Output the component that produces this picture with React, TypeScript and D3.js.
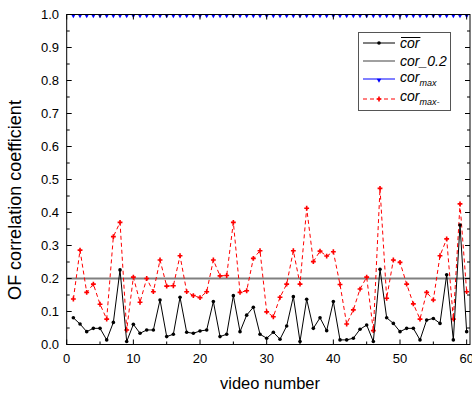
import * as d3 from "d3";
import { useEffect, useRef } from "react";

/* -----------------------------
   Data
----------------------------- */

const videos: number[] = d3.range(1, 61);

const corMean: number[] = [
  0.081, 0.062, 0.039, 0.049, 0.049, 0.014, 0.067, 0.226, 0.009, 0.061,
  0.034, 0.044, 0.044, 0.135, 0.024, 0.031, 0.143, 0.037, 0.034, 0.041,
  0.044, 0.13, 0.024, 0.031, 0.148, 0.039, 0.089, 0.113, 0.031, 0.019,
  0.037, 0.016, 0.056, 0.145, 0.009, 0.137, 0.049, 0.081, 0.042, 0.13,
  0.014, 0.014, 0.019, 0.046, 0.059, 0.009, 0.228, 0.081, 0.064, 0.039,
  0.049, 0.049, 0.014, 0.074, 0.079, 0.064, 0.211, 0.014, 0.362, 0.039,
];

const corMaxMinus: number[] = [
  0.138, 0.286, 0.158, 0.183, 0.122, 0.077, 0.327, 0.37, 0.044, 0.204,
  0.128, 0.2, 0.16, 0.256, 0.177, 0.178, 0.269, 0.16, 0.148, 0.142,
  0.16, 0.256, 0.208, 0.209, 0.37, 0.158, 0.163, 0.261, 0.284, 0.099,
  0.084, 0.143, 0.183, 0.284, 0.183, 0.413, 0.251, 0.283, 0.268, 0.281,
  0.182, 0.062, 0.105, 0.168, 0.204, 0.042, 0.473, 0.14, 0.256, 0.249,
  0.183, 0.123, 0.077, 0.158, 0.135, 0.269, 0.32, 0.077, 0.426, 0.16,
];

const corMax: number[] = videos.map(() => 1.0);

const threshold = 0.2;

const xTicks: number[] = [0, 10, 20, 30, 40, 50, 60];
const yTicks: number[] = [0, 0.1, 0.2, 0.3, 0.4, 0.5, 0.6, 0.7, 0.8, 0.9, 1.0];

/* -----------------------------
   Component
----------------------------- */

export default function App() {
  const ref = useRef<SVGSVGElement>(null);

  useEffect(() => {
    if (!ref.current) return;

    const width = 472;
    const height = 394;
    const left = 66.7;
    const right = 470;
    const top = 14.5;
    const bottom = 344.5;
    const font = "'Liberation Sans', Arial, sans-serif";

    const svg = d3.select(ref.current);
    svg.selectAll("*").remove();
    svg.attr("width", width).attr("height", height);

    const x = d3.scaleLinear().domain([0, 60.5]).range([left, right]);
    const y = d3.scaleLinear().domain([0, 1]).range([bottom, top]);

    // threshold line
    svg
      .append("line")
      .attr("x1", left)
      .attr("x2", right)
      .attr("y1", y(threshold))
      .attr("y2", y(threshold))
      .attr("stroke", "#808080")
      .attr("stroke-width", 2);

    const line = d3
      .line<number>()
      .x((_, i) => x(videos[i]))
      .y((d) => y(d));

    // cor_max- (red dashed)
    svg
      .append("path")
      .datum(corMaxMinus)
      .attr("d", line)
      .attr("fill", "none")
      .attr("stroke", "#ff0000")
      .attr("stroke-width", 1)
      .attr("stroke-dasharray", "4,3");

    const cross = d3.symbol().type(d3.symbolCross).size(13);
    svg
      .append("g")
      .selectAll("path")
      .data(corMaxMinus)
      .join("path")
      .attr("d", cross)
      .attr("transform", (d, i) => `translate(${x(videos[i])},${y(d)})`)
      .attr("fill", "#ff0000");

    // mean cor (black)
    svg
      .append("path")
      .datum(corMean)
      .attr("d", line)
      .attr("fill", "none")
      .attr("stroke", "#000")
      .attr("stroke-width", 1);

    svg
      .append("g")
      .selectAll("circle")
      .data(corMean)
      .join("circle")
      .attr("cx", (_, i) => x(videos[i]))
      .attr("cy", (d) => y(d))
      .attr("r", 1.8)
      .attr("fill", "#000");

    // cor_max (blue), sits on the top frame
    const tri = d3.symbol().type(d3.symbolTriangle).size(9);
    svg
      .append("g")
      .selectAll("path")
      .data(corMax)
      .join("path")
      .attr("d", tri)
      .attr("transform", (d, i) => `translate(${x(videos[i])},${y(d) + 1}) rotate(180)`)
      .attr("fill", "#0000ff");

    // frame + inward ticks
    const frame = svg.append("g").attr("stroke", "#000").attr("stroke-width", 1);
    frame
      .append("rect")
      .attr("x", left)
      .attr("y", top)
      .attr("width", right - left)
      .attr("height", bottom - top)
      .attr("fill", "none");

    const xMinor = d3.range(0, 61, 5);
    const yMinor = d3.range(0, 21).map((i) => i * 0.05);

    xMinor.forEach((t) => {
      const len = t % 10 === 0 ? 5 : 3;
      frame.append("line").attr("x1", x(t)).attr("x2", x(t)).attr("y1", bottom).attr("y2", bottom - len);
      frame.append("line").attr("x1", x(t)).attr("x2", x(t)).attr("y1", top).attr("y2", top + len);
    });
    yMinor.forEach((t, i) => {
      const len = i % 2 === 0 ? 5 : 3;
      frame.append("line").attr("x1", left).attr("x2", left + len).attr("y1", y(t)).attr("y2", y(t));
      frame.append("line").attr("x1", right).attr("x2", right - len).attr("y1", y(t)).attr("y2", y(t));
    });

    // tick labels
    svg
      .append("g")
      .selectAll("text")
      .data(xTicks)
      .join("text")
      .attr("x", (d) => x(d))
      .attr("y", 363)
      .attr("text-anchor", "middle")
      .style("font-family", font)
      .style("font-size", "13px")
      .text((d) => d);

    svg
      .append("g")
      .selectAll("text")
      .data(yTicks)
      .join("text")
      .attr("x", 59)
      .attr("y", (d) => y(d) + 4.5)
      .attr("text-anchor", "end")
      .style("font-family", font)
      .style("font-size", "13px")
      .text((d) => d3.format(".1f")(d));

    // axis titles
    svg
      .append("text")
      .attr("x", 270)
      .attr("y", 389)
      .attr("text-anchor", "middle")
      .style("font-family", font)
      .style("font-size", "16.5px")
      .text("video number");

    svg
      .append("text")
      .attr("transform", "translate(21,200) rotate(-90)")
      .attr("text-anchor", "middle")
      .style("font-family", font)
      .style("font-size", "18px")
      .text("OF correlation coefficient");

    // legend
    const lg = svg.append("g");
    lg.append("rect")
      .attr("x", 358.5)
      .attr("y", 32.5)
      .attr("width", 92)
      .attr("height", 78)
      .attr("fill", "#fff")
      .attr("stroke", "#555")
      .attr("stroke-width", 1);

    const rows = [43, 61, 79, 99];
    const lx1 = 363;
    const lx2 = 395;
    const tx = 400;

    // row 1: mean cor
    lg.append("line").attr("x1", lx1).attr("x2", lx2).attr("y1", rows[0]).attr("y2", rows[0]).attr("stroke", "#000");
    lg.append("circle").attr("cx", (lx1 + lx2) / 2).attr("cy", rows[0]).attr("r", 1.8).attr("fill", "#000");
    const t1 = lg
      .append("text")
      .attr("x", tx)
      .attr("y", rows[0] + 5)
      .style("font-family", font)
      .style("font-size", "14px")
      .style("font-style", "italic")
      .text("cor");
    const w1 = (t1.node() as SVGTextElement).getComputedTextLength();
    lg.append("line")
      .attr("x1", tx + 1)
      .attr("x2", tx + w1 + 1)
      .attr("y1", rows[0] - 5.5)
      .attr("y2", rows[0] - 5.5)
      .attr("stroke", "#000")
      .attr("stroke-width", 1);

    // row 2: threshold
    lg.append("line").attr("x1", lx1).attr("x2", lx2).attr("y1", rows[1]).attr("y2", rows[1]).attr("stroke", "#808080").attr("stroke-width", 1.5);
    lg.append("text")
      .attr("x", tx)
      .attr("y", rows[1] + 5)
      .style("font-family", font)
      .style("font-size", "14px")
      .style("font-style", "italic")
      .text("cor_0.2");

    // row 3: cor_max
    lg.append("line").attr("x1", lx1).attr("x2", lx2).attr("y1", rows[2]).attr("y2", rows[2]).attr("stroke", "#0000ff");
    lg.append("path")
      .attr("d", tri)
      .attr("transform", `translate(${(lx1 + lx2) / 2},${rows[2] + 1}) rotate(180)`)
      .attr("fill", "#0000ff");
    const t3 = lg
      .append("text")
      .attr("x", tx)
      .attr("y", rows[2] + 3)
      .style("font-family", font)
      .style("font-size", "14px")
      .style("font-style", "italic");
    t3.append("tspan").text("cor");
    t3.append("tspan").attr("dy", 4).style("font-size", "9px").text("max");

    // row 4: cor_max-
    lg.append("line")
      .attr("x1", lx1)
      .attr("x2", lx2)
      .attr("y1", rows[3])
      .attr("y2", rows[3])
      .attr("stroke", "#ff0000")
      .attr("stroke-dasharray", "4,3");
    lg.append("path")
      .attr("d", cross)
      .attr("transform", `translate(${(lx1 + lx2) / 2},${rows[3]})`)
      .attr("fill", "#ff0000");
    const t4 = lg
      .append("text")
      .attr("x", tx)
      .attr("y", rows[3] + 2)
      .style("font-family", font)
      .style("font-size", "14px")
      .style("font-style", "italic");
    t4.append("tspan").text("cor");
    t4.append("tspan").attr("dy", 4).style("font-size", "9px").text("max-");
  }, []);

  return (
    <svg
      ref={ref}
      style={{ position: "absolute", left: 0, top: 0, background: "#fff" }}
    />
  );
}
